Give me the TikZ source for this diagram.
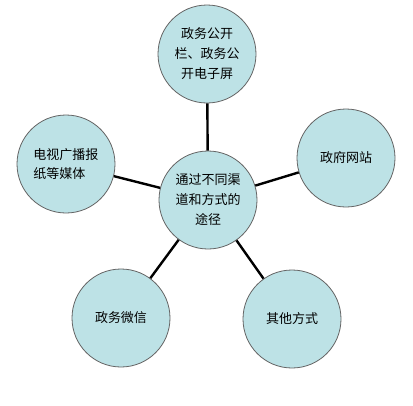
\documentclass[tikz,border=0pt]{standalone}
\usepackage{fontspec}
\setmainfont{Noto Sans CJK SC}
\definecolor{bubblefill}{RGB}{189,226,230}
\definecolor{bubbleedge}{RGB}{100,100,100}
\begin{document}
\begin{tikzpicture}[x=1pt,y=-1pt,
  bubble/.style={circle,draw=bubbleedge,line width=0.8pt,fill=bubblefill,
    minimum size=98pt,inner sep=0pt,font=\fontsize{13}{20}\selectfont,align=center},
  link/.style={line width=2.4pt,black}]
\useasboundingbox (0,0) rectangle (413,405);
\node[bubble] (c) at (208,200) {通过不同渠\\道和方式的\\途径};
\node[bubble] (t) at (207,54) {政务公开\\栏、政务公\\开电子屏};
\node[bubble,align=left,font=\fontsize{13}{19}\selectfont] (l) at (66,164) {电视广播报\\纸等媒体};
\node[bubble] (r) at (346,158) {政府网站};
\node[bubble] (bl) at (121,318) {政务微信};
\node[bubble] (br) at (292,319) {其他方式};
\draw[link] (c) -- (t);
\draw[link] (c) -- (l);
\draw[link] (c) -- (r);
\draw[link] (c) -- (bl);
\draw[link] (c) -- (br);
\end{tikzpicture}
\end{document}
